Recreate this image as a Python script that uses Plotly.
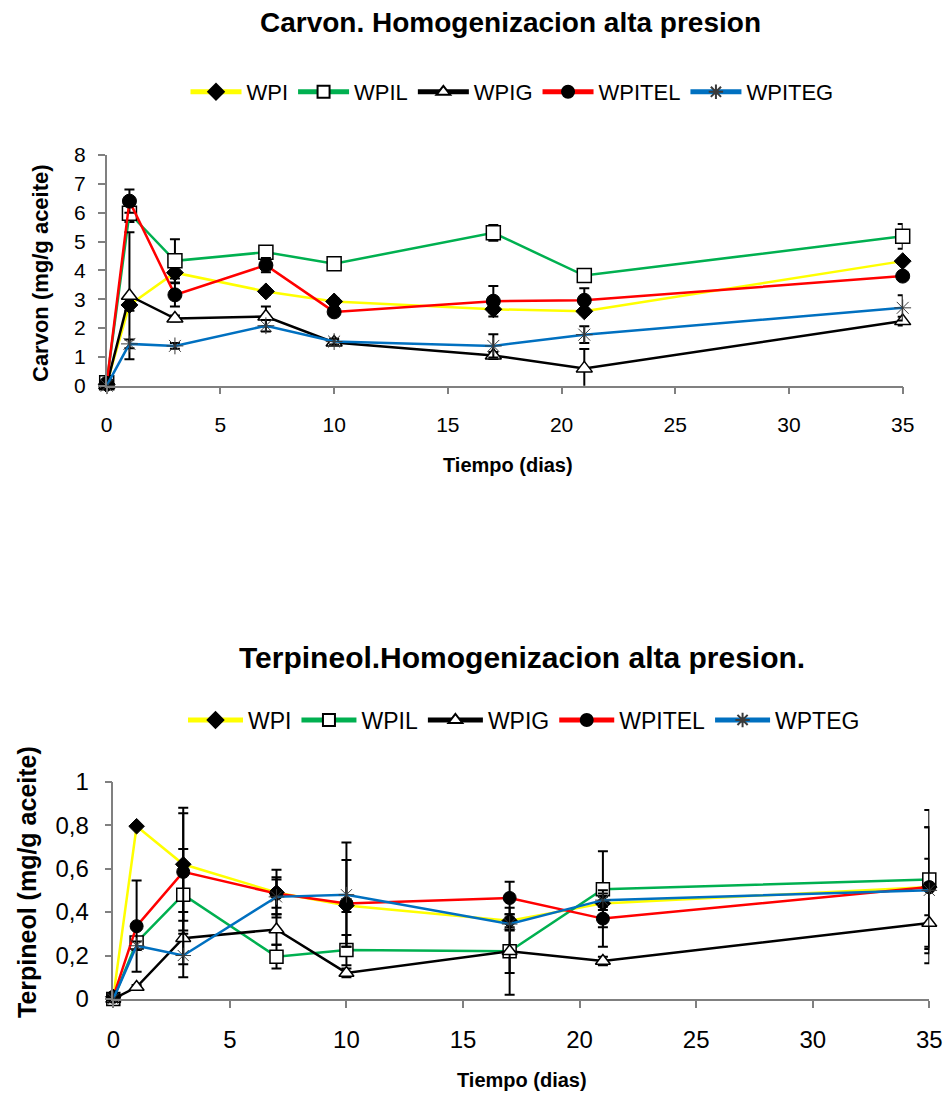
import plotly.graph_objects as go

# ---------------- data ----------------
days = [0, 1, 3, 7, 10, 17, 21, 35]

# Carvon (mg/g aceite)
carv_WPI = [0.05, 2.8, 3.92, 3.27, 2.92, 2.65, 2.58, 4.32]
carv_WPIL = [0.1, 5.98, 4.33, 4.63, 4.23, 5.3, 3.82, 5.18]
carv_WPIG = [0.02, 3.12, 2.33, 2.4, 1.5, 1.05, 0.6, 2.24]
carv_WPITEL = [0.08, 6.4, 3.15, 4.18, 2.56, 2.93, 2.96, 3.8]
carv_WPITEG = [0.0, 1.45, 1.38, 2.08, 1.53, 1.38, 1.77, 2.7]

carv_err_WPI = [0, 0.2, 0.2, 0.12, 0.12, 0.1, 0.1, 0.1]
carv_err_WPIL = [0, 0.3, 0.75, 0.1, 0.1, 0.27, 0.1, 0.43]
carv_err_WPIG = [0, 2.2, 0.1, 0.35, 0.08, 0.12, 0.67, 0.15]
carv_err_WPITEL = [0, 0.4, 0.4, 0.25, 0.1, 0.53, 0.42, 0.1]
carv_err_WPITEG = [0, 0.15, 0.1, 0.2, 0.1, 0.4, 0.29, 0.44]

# Terpineol (mg/g aceite)
terp_WPI = [0.01, 0.795, 0.62, 0.49, 0.43, 0.36, 0.44, 0.515]
terp_WPIL = [0.0, 0.26, 0.48, 0.195, 0.225, 0.22, 0.505, 0.55]
terp_WPIG = [0.0, 0.055, 0.28, 0.32, 0.12, 0.22, 0.175, 0.35]
terp_WPITEL = [0.01, 0.335, 0.585, 0.485, 0.44, 0.465, 0.37, 0.515]
terp_WPTEG = [0.0, 0.245, 0.2, 0.47, 0.48, 0.345, 0.455, 0.5]

terp_err_WPI = [0, 0.0, 0.26, 0.07, 0.03, 0.03, 0.03, 0.275]
terp_err_WPIL = [0, 0.02, 0.21, 0.055, 0.07, 0.1, 0.175, 0.32]
terp_err_WPIG = [0, 0.01, 0.12, 0.07, 0.02, 0.2, 0.02, 0.185]
terp_err_WPITEL = [0, 0.21, 0.27, 0.11, 0.2, 0.075, 0.13, 0.13]
terp_err_WPTEG = [0, 0.02, 0.1, 0.08, 0.24, 0.03, 0.03, 0.29]

top_names = ["WPI", "WPIL", "WPIG", "WPITEL", "WPITEG"]
bot_names = ["WPI", "WPIL", "WPIG", "WPITEL", "WPTEG"]

x_ticks = [0, 5, 10, 15, 20, 25, 30, 35]
terp_ticks = [0, 0.2, 0.4, 0.6, 0.8, 1]
terp_tick_text = ["0", "0,2", "0,4", "0,6", "0,8", "1"]

# ---------------- styles ----------------
W, H = 948, 1095
FONT = "Liberation Sans, Arial, sans-serif"
line_colors = ["#FFFF00", "#00B050", "#000000", "#FF0000", "#0070C0"]
markers = [
    dict(symbol="diamond", color="black", size=13, line=dict(color="black", width=1)),
    dict(symbol="square", color="white", size=14, line=dict(color="black", width=1.5)),
    dict(symbol="triangle-up", color="white", size=14, line=dict(color="black", width=1.5)),
    dict(symbol="circle", color="black", size=14, line=dict(color="black", width=1)),
    dict(symbol="asterisk", color="#3a3a3a", size=14, line=dict(color="#3a3a3a", width=1)),
]

fig = go.Figure()

top_vals = [carv_WPI, carv_WPIL, carv_WPIG, carv_WPITEL, carv_WPITEG]
top_errs = [carv_err_WPI, carv_err_WPIL, carv_err_WPIG, carv_err_WPITEL, carv_err_WPITEG]
bot_vals = [terp_WPI, terp_WPIL, terp_WPIG, terp_WPITEL, terp_WPTEG]
bot_errs = [terp_err_WPI, terp_err_WPIL, terp_err_WPIG, terp_err_WPITEL, terp_err_WPTEG]

for i in range(5):
    fig.add_trace(go.Scatter(
        x=days, y=top_vals[i], name=top_names[i], mode="lines+markers",
        line=dict(color=line_colors[i], width=2.5), marker=markers[i],
        error_y=dict(type="data", array=top_errs[i], color="black", thickness=2, width=5),
        cliponaxis=False, xaxis="x", yaxis="y", legend="legend",
    ))
for i in range(5):
    fig.add_trace(go.Scatter(
        x=days, y=bot_vals[i], name=bot_names[i], mode="lines+markers",
        line=dict(color=line_colors[i], width=2.5), marker=dict(markers[i], size=markers[i]["size"] - 1),
        error_y=dict(type="data", array=bot_errs[i], color="black", thickness=2, width=5),
        cliponaxis=False, xaxis="x2", yaxis="y2", legend="legend2",
    ))

axis_common = dict(showgrid=False, zeroline=False, showline=True, linecolor="#808080",
                   linewidth=1.5, ticks="outside", ticklen=7, tickcolor="#808080",
                   tickwidth=1.5, automargin=False)

def px_x(p):
    return p / W

def px_y(p):
    return 1 - p / H

fig.update_layout(
    width=W, height=H, margin=dict(l=0, r=0, t=0, b=0),
    paper_bgcolor="white", plot_bgcolor="white",
    font=dict(family=FONT, color="black"),
    xaxis=dict(axis_common, domain=[px_x(106.7), px_x(902.7)], range=[0, 35],
               tickvals=x_ticks, anchor="y", tickfont=dict(size=21), ticklabelstandoff=12),
    yaxis=dict(axis_common, domain=[px_y(385.7), px_y(155)], range=[0, 8], dtick=1,
               anchor="x", tickfont=dict(size=21), ticklabelstandoff=8),
    xaxis2=dict(axis_common, domain=[px_x(113.3), px_x(929.3)], range=[0, 35],
                tickvals=x_ticks, anchor="y2", tickfont=dict(size=24), ticklabelstandoff=11),
    yaxis2=dict(axis_common, domain=[px_y(999), px_y(781.7)], range=[0, 1],
                anchor="x2", tickfont=dict(size=24), ticklabelstandoff=11,
                tickvals=terp_ticks, ticktext=terp_tick_text),
    legend=dict(orientation="h", x=px_x(512), y=px_y(92), xanchor="center", yanchor="middle",
                font=dict(size=22), itemsizing="constant", itemwidth=51, bgcolor="rgba(0,0,0,0)"),
    legend2=dict(orientation="h", x=px_x(524), y=px_y(720), xanchor="center", yanchor="middle",
                 font=dict(size=23), itemsizing="constant", itemwidth=55, bgcolor="rgba(0,0,0,0)"),
    showlegend=True,
)

ann = [
    dict(text="<b>Carvon. Homogenizacion alta presion</b>", x=px_x(510), y=px_y(23), size=28, angle=0),
    dict(text="<b>Terpineol.Homogenizacion alta presion.</b>", x=px_x(522), y=px_y(657), size=30, angle=0),
    dict(text="<b>Tiempo (dias)</b>", x=px_x(508), y=px_y(465), size=20, angle=0),
    dict(text="<b>Tiempo (dias)</b>", x=px_x(522), y=px_y(1080), size=20, angle=0),
    dict(text="<b>Carvon (mg/g aceite)</b>", x=px_x(40), y=px_y(273), size=22, angle=-90),
    dict(text="<b>Terpineol (mg/g aceite)</b>", x=px_x(27), y=px_y(882), size=25, angle=-90),
]
for a in ann:
    fig.add_annotation(text=a["text"], x=a["x"], y=a["y"], xref="paper", yref="paper",
                       xanchor="center", yanchor="middle", showarrow=False,
                       textangle=a["angle"], font=dict(size=a["size"], family=FONT, color="black"))

fig.write_html("out.html")
